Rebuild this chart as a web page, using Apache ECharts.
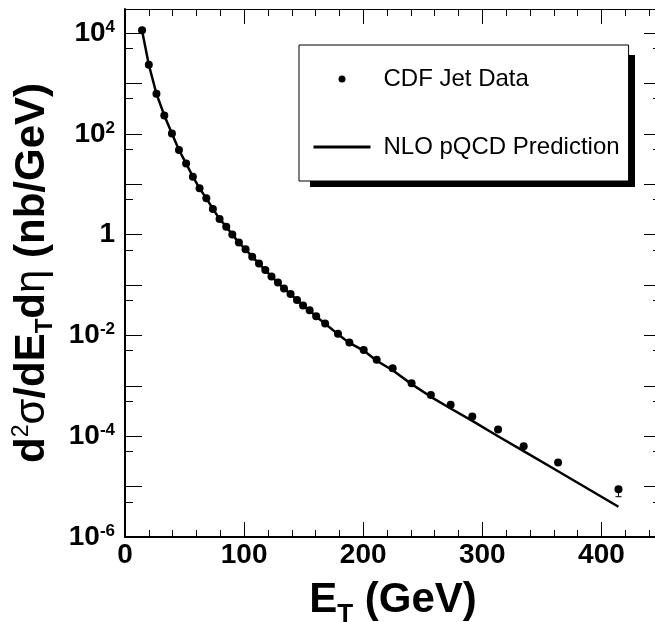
<!DOCTYPE html>
<html><head><meta charset="utf-8">
<script src="https://cdn.jsdelivr.net/npm/echarts@6/dist/echarts.min.js"></script>
<style>html,body{margin:0;padding:0;background:#fff;}#c{width:655px;height:622px;}</style>
</head><body><div id="c"></div>
<script>
// ---- data ----
const etData = [14.3, 20.0, 26.4, 33.0, 39.4, 45.3, 51.3, 57.0, 62.6, 68.3, 73.8, 79.4, 85.0, 90.1, 95.6, 101.2, 106.8, 112.5, 117.8, 123.0, 128.4, 133.5, 139.0, 144.4, 149.5, 155.0, 160.5, 168.0, 178.8, 188.4, 200.4, 211.3, 224.7, 240.6, 256.8, 273.4, 291.6, 313.2, 334.7, 363.6, 414.3];
const sigmaData = [1.13e4, 2350, 625, 232, 102, 47.8, 25.9, 14.1, 8.28, 5.25, 3.23, 2.05, 1.44, 1.01, 0.694, 0.511, 0.366, 0.266, 0.198, 0.147, 0.112, 0.085, 0.0661, 0.0503, 0.0391, 0.0314, 0.024, 0.0172, 0.0108, 0.00722, 0.00513, 0.00328, 0.00222, 0.00112, 6.57e-4, 4.22e-4, 2.46e-4, 1.36e-4, 6.34e-5, 3.01e-5, 8.86e-6];
const theoryEt = [14.3, 20.0, 26.4, 33.0, 39.4, 45.3, 51.3, 57.0, 62.6, 68.3, 73.8, 79.4, 85.0, 90.1, 95.6, 101.2, 106.8, 112.5, 117.8, 123.0, 128.4, 133.5, 139.0, 144.4, 149.5, 155.0, 160.5, 168.0, 178.8, 188.4, 200.4, 211.3, 224.7, 240.6, 256.8, 273.4, 291.6, 313.2, 334.7, 363.6, 414.3];
const theoryValues = [1.13e4, 2350, 625, 232, 102, 47.8, 25.9, 14.1, 8.28, 5.25, 3.23, 2.05, 1.44, 1.01, 0.694, 0.511, 0.366, 0.266, 0.198, 0.147, 0.112, 0.085, 0.0661, 0.0503, 0.0391, 0.0310, 0.0238, 0.0170, 0.0106, 0.00710, 0.00500, 0.00315, 0.00204, 0.00108, 6.05e-4, 3.55e-4, 2.02e-4, 1.0e-4, 5.05e-5, 2.02e-5, 3.98e-6];
const errEt = [414.3];
const errLow = [6.3e-6];
const errHigh = [1.04e-5];

const xMajorTicks = [0, 100, 200, 300, 400];
const xMinorTicks = [20, 40, 60, 80, 120, 140, 160, 180, 220, 240, 260, 280, 320, 340, 360, 380, 420, 440];
const yMajorTicks = [1e-6, 1e-5, 1e-4, 1e-3, 1e-2, 1e-1, 1, 1e1, 1e2, 1e3, 1e4];
const yMinorTicks = [5e-6, 5e-5, 5e-4, 5e-3, 5e-2, 5e-1, 5, 5e1, 5e2, 5e3];
const yLabelValues = [1e-6, 1e-4, 1e-2, 1, 1e2, 1e4];
const yLabelTexts = ['10{sup|-6}', '10{sup|-4}', '10{sup|-2}', '1', '10{sup|2}', '10{sup|4}'];

const seriesDataName = 'CDF Jet Data';
const seriesTheoryName = 'NLO pQCD Prediction';
const xTitle = 'E{sub|T} (GeV)';
const yTitle = 'd{sup|2}{sym|σ}/dE{sub|T}d{sym|η} (nb/GeV)';

// ---- chart ----
const FONT = 'Liberation Sans, Arial, sans-serif';
const chart = echarts.init(document.getElementById('c'), null, {renderer: 'canvas'});

function xAxisDef(pos, ticks, len, withLine, withLabel) {
  const ax = {
    type: 'value', position: pos, min: 0, max: 450,
    axisLine: {show: withLine, onZero: false, lineStyle: {color: '#000', width: pos === 'bottom' ? 2 : 1}},
    axisTick: {show: true, inside: true, length: len, customValues: ticks, lineStyle: {color: '#000', width: 1}},
    axisLabel: {show: false},
    splitLine: {show: false}
  };
  if (withLabel) {
    ax.axisLabel = {show: true, customValues: xMajorTicks, fontSize: 28, fontWeight: 'bold', color: '#000', margin: 4, fontFamily: FONT};
    ax.name = xTitle;
    ax.nameLocation = 'middle';
    ax.nameGap = 29;
    ax.nameTextStyle = {fontSize: 42, fontWeight: 'bold', color: '#000', fontFamily: FONT, lineHeight: 42,
      rich: {sub: {fontSize: 26, fontWeight: 'bold', color: '#000', fontFamily: FONT, lineHeight: 26, padding: [28, 0, 0, 0]}}};
  }
  return ax;
}
function yAxisDef(pos, ticks, len, withLine, withLabel) {
  const ax = {
    type: 'log', logBase: 10, position: pos, min: 1e-6, max: 3e4,
    axisLine: {show: withLine, onZero: false, lineStyle: {color: '#000', width: 2}},
    axisTick: {show: true, inside: true, length: len, customValues: ticks, lineStyle: {color: '#000', width: 1}},
    axisLabel: {show: false},
    splitLine: {show: false}
  };
  if (withLabel) {
    ax.axisLabel = {show: true, customValues: yLabelValues, fontSize: 28, fontWeight: 'bold', color: '#000', margin: 10, fontFamily: FONT, lineHeight: 28,
      formatter: function (v) {
        const e = Math.round(Math.log10(v));
        for (let i = 0; i < yLabelValues.length; i++) {
          if (Math.round(Math.log10(yLabelValues[i])) === e) return yLabelTexts[i];
        }
        return '';
      },
      rich: {sup: {fontSize: 17, fontWeight: 'bold', color: '#000', fontFamily: FONT, lineHeight: 17, padding: [0, 0, 12, 0]}}};
    ax.name = yTitle;
    ax.nameLocation = 'middle';
    ax.nameGap = 52;
    ax.nameTextStyle = {fontSize: 42, fontWeight: 'bold', color: '#000', fontFamily: FONT, lineHeight: 42,
      rich: {
        sup: {fontSize: 23, fontWeight: 'normal', color: '#000', fontFamily: FONT, lineHeight: 23, padding: [0, 0, 21, 0]},
        sub: {fontSize: 24, fontWeight: 'bold', color: '#000', fontFamily: FONT, lineHeight: 24, padding: [27, 0, 0, 0]},
        sym: {fontSize: 42, fontWeight: 'normal', color: '#000', fontFamily: FONT, lineHeight: 42}
      }};
  }
  return ax;
}

const option = {
  animation: false,
  backgroundColor: '#fff',
  textStyle: {fontFamily: FONT},
  grid: {left: 125, top: 9, right: -6, bottom: 85, containLabel: false, outerBoundsMode: 'none'},
  xAxis: [
    xAxisDef('bottom', xMajorTicks, 15, true, true),
    xAxisDef('bottom', xMinorTicks, 7, false, false),
    xAxisDef('top', xMajorTicks, 15, true, false),
    xAxisDef('top', xMinorTicks, 7, false, false)
  ],
  yAxis: [
    yAxisDef('left', yMajorTicks, 17, true, true),
    yAxisDef('left', yMinorTicks, 8, false, false),
    yAxisDef('right', yMajorTicks, 17, true, false),
    yAxisDef('right', yMinorTicks, 8, false, false)
  ],
  graphic: [{type: 'rect', z: 3, shape: {x: 310, y: 55, width: 325, height: 132}, style: {fill: '#000'}}],
  legend: {
    left: 299, top: 45, orient: 'vertical', z: 5,
    backgroundColor: '#fff', borderColor: '#000', borderWidth: 1, borderRadius: 0,
    padding: [22, 9, 22, 13],
    itemWidth: 57, itemHeight: 7, itemGap: 44,
    selectedMode: false,
    lineStyle: {width: 3},
    textStyle: {fontSize: 24, fontFamily: FONT, color: '#000', lineHeight: 24, padding: [0, 0, 0, 8]},
    data: [seriesDataName, {name: seriesTheoryName, itemStyle: {opacity: 0}}]
  },
  series: [
    {
      name: seriesTheoryName, type: 'line', xAxisIndex: 0, yAxisIndex: 0,
      data: theoryEt.map((x, i) => [x, theoryValues[i]]),
      symbol: 'none', smooth: false,
      lineStyle: {color: '#000', width: 2.5}, itemStyle: {color: '#000'}, z: 2
    },
    {
      name: seriesDataName, type: 'scatter', xAxisIndex: 0, yAxisIndex: 0,
      data: etData.map((x, i) => [x, sigmaData[i]]),
      symbol: 'circle', symbolSize: 8, itemStyle: {color: '#000', opacity: 1}, z: 3
    },
    {
      name: 'err', type: 'custom', xAxisIndex: 0, yAxisIndex: 0,
      data: errEt.map((x, i) => [x, errLow[i], errHigh[i]]),
      renderItem: function (params, api) {
        const x = api.value(0);
        const lo = api.coord([x, api.value(1)]);
        const hi = api.coord([x, api.value(2)]);
        return {type: 'group', children: [
          {type: 'line', shape: {x1: hi[0], y1: hi[1], x2: lo[0], y2: lo[1]}, style: {stroke: '#000', lineWidth: 1}},
          {type: 'line', shape: {x1: lo[0] - 3, y1: lo[1], x2: lo[0] + 3, y2: lo[1]}, style: {stroke: '#000', lineWidth: 1}}
        ]};
      },
      z: 1
    }
  ]
};
chart.setOption(option);
</script>
</body></html>
